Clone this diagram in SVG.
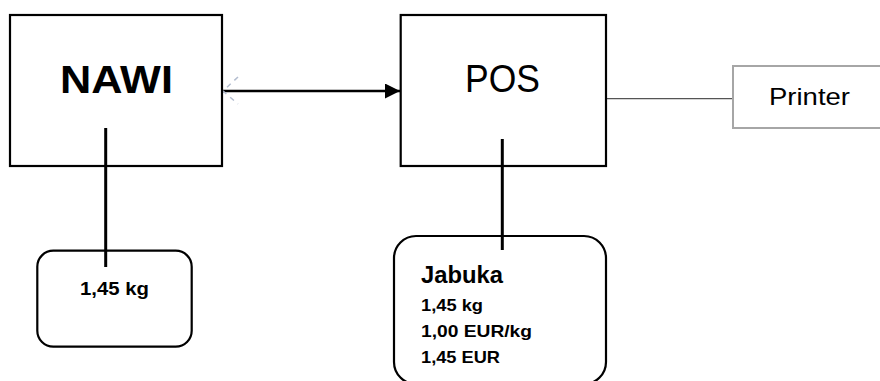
<svg xmlns="http://www.w3.org/2000/svg" width="880" height="381" viewBox="0 0 880 381">
<style>
.box{fill:#fff;stroke:#000;stroke-width:2.2}
.grey{fill:#fff;stroke:#a6a6a6;stroke-width:2}
.t{font-family:"Liberation Sans",Arial,sans-serif;fill:#000}
.b{font-weight:bold}
.ln{stroke:#000;stroke-width:3;fill:none}
</style>
<defs>
<marker id="ah" markerWidth="16" markerHeight="16" refX="15" refY="7.5" orient="auto" markerUnits="userSpaceOnUse">
<path d="M0,0 L15,7.5 L0,15 Z" fill="#000"/>
</marker>
</defs>
<rect x="0" y="0" width="880" height="381" fill="#fff"/>
<g id="connectors">
<line x1="222" y1="91" x2="400" y2="91" stroke="#000" stroke-width="2.5" marker-end="url(#ah)"/>
<path d="M238,77 L223,91 L238,104" fill="none" stroke="#b3bdcf" stroke-width="1.5" stroke-dasharray="5,5"/>
<line x1="606" y1="98.7" x2="733" y2="98.7" stroke="#555" stroke-width="1.2"/>
</g>
<g id="nawi">
<rect class="box" x="10" y="15" width="212" height="151"/>
<text class="t b" x="116.5" y="93" font-size="39" text-anchor="middle" textLength="113" lengthAdjust="spacingAndGlyphs">NAWI</text>
</g>
<g id="pos">
<rect class="box" x="400.7" y="15" width="205.3" height="151"/>
<text class="t" x="502.5" y="92" font-size="39" text-anchor="middle" textLength="75" lengthAdjust="spacingAndGlyphs">POS</text>
</g>
<g id="printer">
<rect class="grey" x="733" y="66" width="160" height="62"/>
<text class="t" x="769" y="105" font-size="24" textLength="81" lengthAdjust="spacingAndGlyphs">Printer</text>
</g>
<g id="scale-display">
<rect class="box" x="37.3" y="250.7" width="154.4" height="96" rx="16"/>
<text class="t b" x="80" y="295" font-size="18" textLength="69" lengthAdjust="spacingAndGlyphs">1,45 kg</text>
</g>
<g id="pos-display">
<rect class="box" x="394" y="236" width="212" height="148" rx="22"/>
<text class="t b" x="421" y="282.7" font-size="23" textLength="82" lengthAdjust="spacingAndGlyphs">Jabuka</text>
<text class="t b" x="421" y="310.7" font-size="16.5" textLength="62" lengthAdjust="spacingAndGlyphs">1,45 kg</text>
<text class="t b" x="421" y="337.3" font-size="16.5" textLength="111" lengthAdjust="spacingAndGlyphs">1,00 EUR/kg</text>
<text class="t b" x="421" y="363.3" font-size="16.5" textLength="79" lengthAdjust="spacingAndGlyphs">1,45 EUR</text>
</g>
<g id="stems">
<line class="ln" x1="105.7" y1="128" x2="105.7" y2="267"/>
<line class="ln" x1="502.3" y1="139" x2="502.3" y2="250"/>
</g>
</svg>
